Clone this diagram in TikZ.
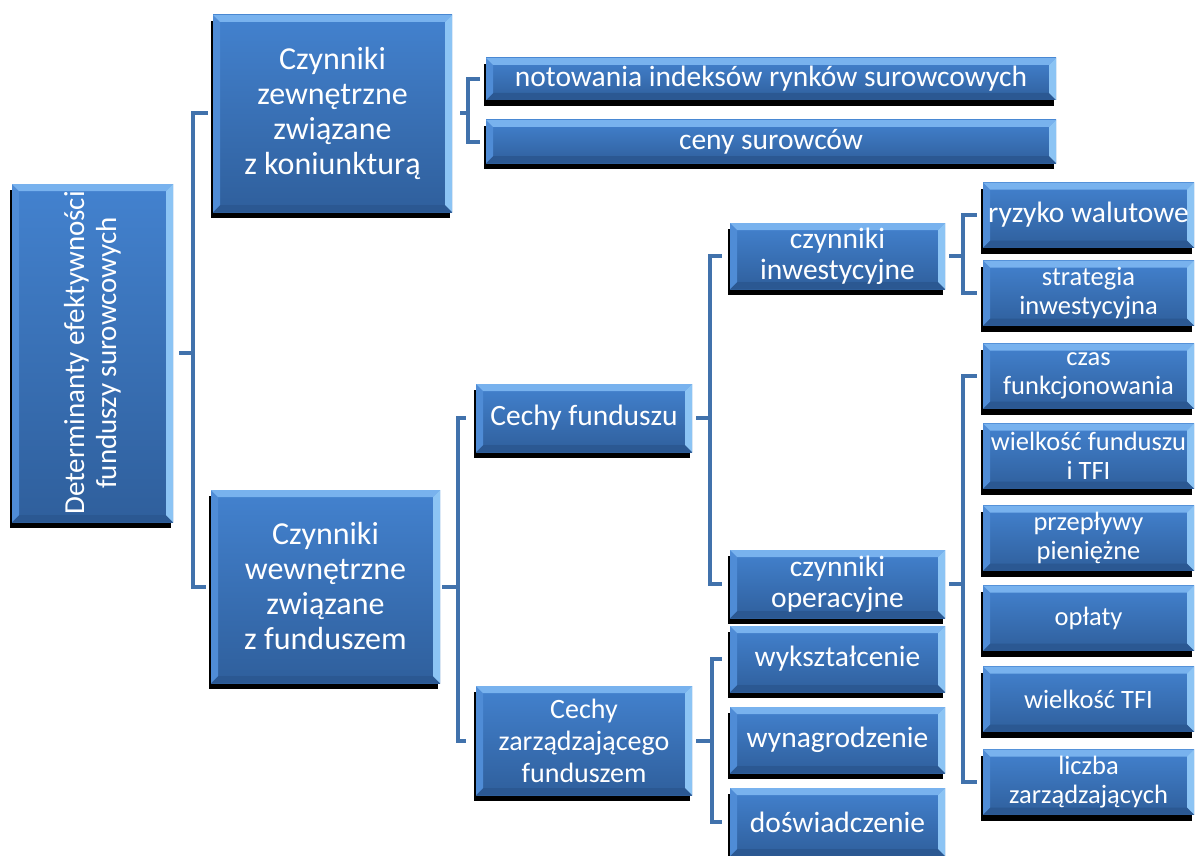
\documentclass[tikz,border=0pt]{standalone}
\usepackage{fontspec}
\setmainfont{Carlito}
\usetikzlibrary{positioning, shadows}
\definecolor{bxtop}{HTML}{4382CF}
\definecolor{bxbot}{HTML}{2F5F9C}
\definecolor{bvlight}{HTML}{78B2EE}
\definecolor{bvright}{HTML}{8CC4F4}
\definecolor{bvside}{HTML}{4F8CD6}
\definecolor{bvdark}{HTML}{2B5892}
\definecolor{brkblue}{HTML}{4172AC}
\newcommand{\ppb}{path picture bounding box}

\begin{document}
\begin{tikzpicture}[x=1pt, y=-1pt,
    blok/.style={rectangle, inner sep=1pt, align=center, text=white,
      top color=bxtop, bottom color=bxbot,
      drop shadow={shadow xshift=-2pt, shadow yshift=-6pt, fill=black, opacity=1},
      path picture={
        \fill[bvdark] (\ppb.south west) -- ([shift={(7pt,7pt)}]\ppb.south west)
          -- ([shift={(-7pt,7pt)}]\ppb.south east) -- (\ppb.south east) -- cycle;
        \fill[bvside] (\ppb.north west) -- ([shift={(7pt,-7pt)}]\ppb.north west)
          -- ([shift={(7pt,7pt)}]\ppb.south west) -- (\ppb.south west) -- cycle;
        \fill[bvlight] (\ppb.north west) -- (\ppb.north east)
          -- ([shift={(-7pt,-7pt)}]\ppb.north east) -- ([shift={(7pt,-7pt)}]\ppb.north west) -- cycle;
        \fill[bvright] (\ppb.north east) -- (\ppb.south east)
          -- ([shift={(-7pt,7pt)}]\ppb.south east) -- ([shift={(-7pt,-7pt)}]\ppb.north east) -- cycle;
      }},
    fbig/.style={font=\fontsize{32}{35}\selectfont},
    fmid/.style={font=\fontsize{29.5}{32}\selectfont},
    flev/.style={font=\fontsize{29.5}{31}\selectfont},
    fsmall/.style={font=\fontsize{26.5}{28.5}\selectfont},
    brk/.style={brkblue, line width=4pt}]
  \useasboundingbox (0,0) rectangle (1196,856);

  % korzen
  \node[blok, minimum width=161, minimum height=338] (root) at (92.5,353) {};
  \node[rotate=90, text=white, align=center, font=\fontsize{29}{32}\selectfont] (roottxt)
    at (root.center) {Determinanty efektywności\\funduszy surowcowych};

  % poziom 1
  \node[blok, fbig, minimum width=239, minimum height=197] (zew) at (332.5,113.5)
    {Czynniki\\zewnętrzne\\związane\\z koniunkturą};
  \node[blok, fbig, minimum width=229, minimum height=193] (wew) at (325.5,586.5)
    {Czynniki\\wewnętrzne\\związane\\z funduszem};

  % koniunktura
  \node[blok, fmid, minimum width=570, minimum height=42] (not) at (771,79)
    {notowania indeksów rynków surowcowych};
  \node[blok, fmid, minimum width=570, minimum height=43] (cen) at (771,141.5)
    {ceny surowców};

  % cechy
  \node[blok, fmid, minimum width=216, minimum height=68] (cf) at (584,418)
    {Cechy funduszu};
  \node[blok, fmid, font=\fontsize{28}{32}\selectfont, minimum width=216, minimum height=109]
    (cz) at (584,740.5) {Cechy\\zarządzającego\\funduszem};

  % poziom 3
  \foreach \nm/\yy/\hh/\txt in {ci/256/66/{czynniki\\inwestycyjne},
      co/584/68/{czynniki\\operacyjne}, wyk/659/66/{wykształcenie},
      wyn/740/66/{wynagrodzenie}, dos/822/68/{doświadczenie}}
    \node[blok, flev, minimum width=215, minimum height=\hh] (\nm) at (837.5,\yy) {\txt};

  % poziom 4
  \foreach \nm/\yy/\txt in {ryz/215/{\fontsize{29.5}{31}\selectfont ryzyko walutowe},
      str/293/{strategia\\inwestycyjna},
      czas/376/{czas\\funkcjonowania}, wf/456/{wielkość funduszu\\i TFI},
      prz/538/{przepływy\\pieniężne}, opl/618/{opłaty}, wt/699/{wielkość TFI},
      lic/782/{liczba\\zarządzających}}
    \node[blok, fsmall, minimum width=211, minimum height=65] (\nm) at (1088.5,\yy) {\txt};

  % nawiasy
  \draw[brk] ([xshift=6]root.east) -- ++(14,0);
  \draw[brk] ([xshift=-5]zew.west) -- ++(-15,0) |- ([xshift=-5]wew.west);
  \draw[brk] ([xshift=8]zew.east) -- ++(8,0);
  \draw[brk] ([xshift=-6]not.west) -- ++(-12,0) |- ([xshift=-6]cen.west);
  \draw[brk] ([xshift=2]wew.east) -- ++(16,0);
  \draw[brk] ([xshift=-10]cf.west) -- ++(-8,0) |- ([xshift=-10]cz.west);
  \draw[brk] ([xshift=4]cf.east) -- ++(14,0);
  \draw[brk] ([xshift=-8]ci.west) -- ++(-12,0) |- ([xshift=-8]co.west);
  \draw[brk] ([xshift=4]cz.east) -- ++(16,0);
  \draw[brk] ([xshift=-8]wyk.west) -- ++(-10,0) |- ([xshift=-8]dos.west);
  \draw[brk] ([xshift=4]ci.east) -- ++(14,0);
  \draw[brk] ([xshift=-6]ryz.west) -- ++(-14,0) |- ([xshift=-6]str.west);
  \draw[brk] ([xshift=4]co.east) -- ++(14,0);
  \draw[brk] ([xshift=-6]czas.west) -- ++(-14,0) |- ([xshift=-6]lic.west);
\end{tikzpicture}
\end{document}
